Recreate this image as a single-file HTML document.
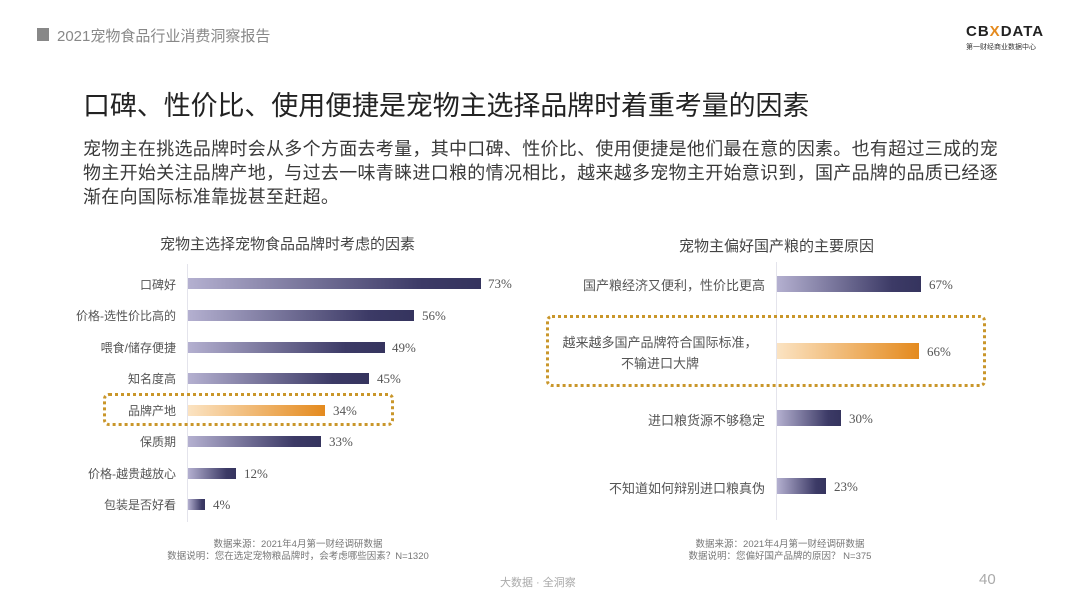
<!DOCTYPE html>
<html><head><meta charset="utf-8"><style>
body{margin:0;width:1080px;height:608px;background:#fff;position:relative;overflow:hidden;font-family:"Liberation Sans","Noto Sans CJK SC",sans-serif;}
.a{position:absolute;white-space:nowrap;}
.lbl{position:absolute;font-size:12px;color:#555;text-align:right;white-space:nowrap;}
.val{position:absolute;font-family:"Liberation Serif","Noto Serif CJK SC",serif;font-size:13px;color:#555;}
.bar{position:absolute;background:linear-gradient(90deg,#b4b0d0,#3c3a66 80%,#35345e);}
.obar{position:absolute;background:linear-gradient(90deg,#fbe3c2,#e48a1e);}
.box{position:absolute;border:3px dotted #c9962a;border-radius:6px;box-sizing:border-box;}
.p{font-size:18px;color:#3a3a3a;letter-spacing:0.3px;}
</style></head><body>
<div class="a" style="left:37px;top:28px;width:12px;height:13px;background:#888;"></div>
<div class="a" style="left:57px;top:25px;font-size:15px;color:#888;">2021宠物食品行业消费洞察报告</div>
<div class="a" style="left:966px;top:23px;font-size:15px;font-weight:bold;color:#222;letter-spacing:1px;">CB<span style="color:#e48a1e">X</span>DATA</div>
<div class="a" style="left:966px;top:42px;font-size:7px;color:#333;">第一财经商业数据中心</div>
<div class="a" style="left:83px;top:84px;font-size:27px;color:#222;letter-spacing:-0.1px;">口碑、性价比、使用便捷是宠物主选择品牌时着重考量的因素</div>
<div class="a p" style="left:83px;top:135px;">宠物主在挑选品牌时会从多个方面去考量，其中口碑、性价比、使用便捷是他们最在意的因素。也有超过三成的宠</div>
<div class="a p" style="left:83px;top:159px;">物主开始关注品牌产地，与过去一味青睐进口粮的情况相比，越来越多宠物主开始意识到，国产品牌的品质已经逐</div>
<div class="a p" style="left:83px;top:183px;">渐在向国际标准靠拢甚至赶超。</div>
<div class="a" style="left:160px;top:233px;font-size:15px;color:#444;">宠物主选择宠物食品品牌时考虑的因素</div>
<div class="a" style="left:679px;top:235px;font-size:15px;color:#444;">宠物主偏好国产粮的主要原因</div>
<div class="a" style="left:187px;top:264px;width:1px;height:258px;background:#e4e4ec;"></div>
<div class="lbl" style="right:904px;top:276px;">口碑好</div><div class="bar" style="left:188px;top:278px;width:293px;height:11px;"></div><div class="val" style="left:488px;top:276px;">73%</div>
<div class="lbl" style="right:904px;top:307px;">价格-选性价比高的</div><div class="bar" style="left:188px;top:310px;width:226px;height:11px;"></div><div class="val" style="left:422px;top:308px;">56%</div>
<div class="lbl" style="right:904px;top:339px;">喂食/储存便捷</div><div class="bar" style="left:188px;top:342px;width:197px;height:11px;"></div><div class="val" style="left:392px;top:340px;">49%</div>
<div class="lbl" style="right:904px;top:370px;">知名度高</div><div class="bar" style="left:188px;top:373px;width:181px;height:11px;"></div><div class="val" style="left:377px;top:371px;">45%</div>
<div class="box" style="left:103px;top:393px;width:291px;height:33px;"></div>
<div class="lbl" style="right:904px;top:402px;">品牌产地</div><div class="obar" style="left:188px;top:405px;width:137px;height:11px;"></div><div class="val" style="left:333px;top:403px;">34%</div>
<div class="lbl" style="right:904px;top:433px;">保质期</div><div class="bar" style="left:188px;top:436px;width:133px;height:11px;"></div><div class="val" style="left:329px;top:434px;">33%</div>
<div class="lbl" style="right:904px;top:465px;">价格-越贵越放心</div><div class="bar" style="left:188px;top:468px;width:48px;height:11px;"></div><div class="val" style="left:244px;top:466px;">12%</div>
<div class="lbl" style="right:904px;top:496px;">包装是否好看</div><div class="bar" style="left:188px;top:499px;width:17px;height:11px;"></div><div class="val" style="left:213px;top:497px;">4%</div>
<div class="a" style="left:776px;top:262px;width:1px;height:258px;background:#e4e4ec;"></div>
<div class="lbl" style="right:315px;top:275px;font-size:13px;">国产粮经济又便利，性价比更高</div><div class="bar" style="left:777px;top:276px;width:144px;height:16px;"></div><div class="val" style="left:929px;top:277px;">67%</div>
<div class="box" style="left:546px;top:315px;width:440px;height:72px;"></div>
<div class="a" style="left:560px;top:332px;width:200px;text-align:center;font-size:13px;color:#555;line-height:21px;white-space:normal;">越来越多国产品牌符合国际标准，<br>不输进口大牌</div>
<div class="obar" style="left:777px;top:343px;width:142px;height:16px;"></div><div class="val" style="left:927px;top:344px;">66%</div>
<div class="lbl" style="right:315px;top:410px;font-size:13px;">进口粮货源不够稳定</div><div class="bar" style="left:777px;top:410px;width:64px;height:16px;"></div><div class="val" style="left:849px;top:411px;">30%</div>
<div class="lbl" style="right:315px;top:478px;font-size:13px;">不知道如何辩别进口粮真伪</div><div class="bar" style="left:777px;top:478px;width:49px;height:16px;"></div><div class="val" style="left:834px;top:479px;">23%</div>
<div class="a" style="left:100px;top:539px;width:396px;text-align:center;font-size:9.5px;color:#777;line-height:12px;">数据来源：2021年4月第一财经调研数据<br>数据说明：您在选定宠物粮品牌时，会考虑哪些因素？N=1320</div>
<div class="a" style="left:630px;top:539px;width:300px;text-align:center;font-size:9.5px;color:#777;line-height:12px;">数据来源：2021年4月第一财经调研数据<br>数据说明：您偏好国产品牌的原因？ N=375</div>
<div class="a" style="left:500px;top:574px;font-size:11px;color:#aaa;">大数据 · 全洞察</div>
<div class="a" style="left:979px;top:571px;font-size:15px;color:#aaa;">40</div>
</body></html>
